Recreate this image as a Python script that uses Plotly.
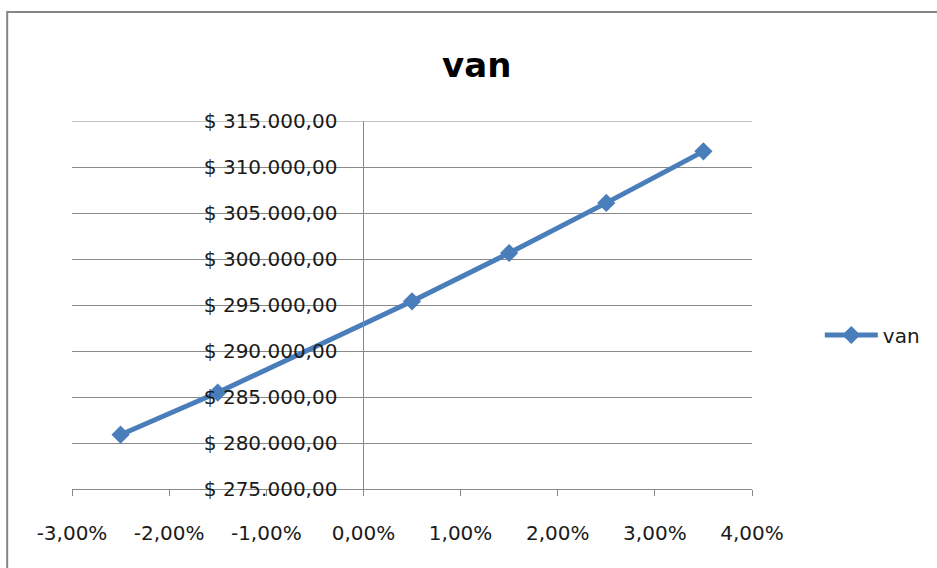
import plotly.graph_objects as go

# Discount-rate variation vs. net present value (VAN)
rates = [-0.025, -0.015, 0.005, 0.015, 0.025, 0.035]
van_values = [280900, 285480, 295400, 300650, 306100, 311700]

x_range = [-0.03, 0.04]
y_range = [275000, 315000]
x_ticks = [-0.03, -0.02, -0.01, 0.0, 0.01, 0.02, 0.03, 0.04]
y_ticks = [275000, 280000, 285000, 290000, 295000, 300000, 305000, 310000, 315000]

W, H = 937, 568
M_L, M_R, M_T, M_B = 72, 183, 121, 79
plot_w = W - M_L - M_R
plot_h = H - M_T - M_B

blue = "#4A7EBB"
grid = "#898989"
font_family = "DejaVu Sans"


def pct_label(v):
    # Spanish-style percent with comma decimals and a plain hyphen for negatives
    return f"{v * 100:.2f}".replace(".", ",") + "%"


def money_label(v):
    s = f"{v:,.2f}".replace(",", "X").replace(".", ",").replace("X", ".")
    return "$ " + s


x_text = [pct_label(v) for v in x_ticks]
y_text = [money_label(v) for v in y_ticks]

# the vertical axis crosses the horizontal one at x = 0
y_axis_pos = (0 - x_range[0]) / (x_range[1] - x_range[0])

fig = go.Figure()
fig.add_trace(go.Scatter(
    x=rates, y=van_values, name="van", mode="lines+markers",
    line=dict(color=blue, width=5),
    marker=dict(symbol="diamond", size=14, color=blue),
))


def px_x(p):
    return (p - M_L) / plot_w


def px_y(p):
    return (M_T + plot_h - p) / plot_h


fig.update_layout(
    width=W, height=H,
    margin=dict(l=M_L, r=M_R, t=M_T, b=M_B),
    paper_bgcolor="white", plot_bgcolor="white",
    font=dict(family=font_family, color="#1a1a1a"),
    title=dict(text="<b>van</b>", x=476.7 / W, xref="container", xanchor="center",
               y=1 - 65 / H, yref="container", yanchor="middle",
               font=dict(family=font_family, size=34, color="#000000")),
    xaxis=dict(range=x_range, tickmode="array", tickvals=x_ticks, ticktext=x_text,
               showgrid=False, zeroline=False, showline=True, linecolor=grid, linewidth=1,
               ticks="outside", ticklen=6, tickcolor=grid, tickwidth=1,
               ticklabelstandoff=20,
               tickfont=dict(size=20, family=font_family, color="#1a1a1a")),
    yaxis=dict(range=y_range,
               tickmode="array", tickvals=y_ticks, ticktext=y_text,
               anchor="free", position=y_axis_pos,
               showgrid=True, gridcolor=grid, gridwidth=1, zeroline=False,
               showline=True, linecolor=grid, linewidth=1, ticks="",
               ticklabelstandoff=22,
               tickfont=dict(size=20, family=font_family, color="#1a1a1a")),
    showlegend=True,
    legend=dict(x=px_x(822), y=px_y(335), xanchor="left", yanchor="middle",
                itemwidth=53, bgcolor="rgba(0,0,0,0)",
                font=dict(size=20, family=font_family, color="#1a1a1a")),
    shapes=[
        # outer chart frame
        dict(type="rect", xref="paper", yref="paper",
             x0=px_x(7), x1=px_x(W + 20), y0=px_y(H + 20), y1=px_y(12),
             line=dict(color="#868686", width=2), fillcolor="rgba(0,0,0,0)",
             layer="below"),
        # gridline at the top of the value range
        dict(type="line", xref="paper", yref="y", x0=0, x1=1,
             y0=y_ticks[-1], y1=y_ticks[-1],
             line=dict(color=grid, width=1), layer="below"),
    ],
)

fig.write_html("out.html")
